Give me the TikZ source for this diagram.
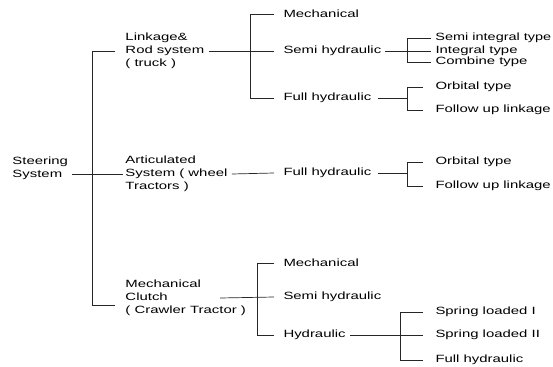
\documentclass[tikz,border=0pt]{standalone}
\usepackage{fontspec}
\setmainfont{Liberation Sans}

\begin{document}
\begin{tikzpicture}[x=1pt,y=-1pt,
    line width=0.7pt, draw=black!85,
    txt/.style={anchor=west, inner sep=0pt, align=left, xscale=1.42,
                font=\fontsize{10.5}{12.8}\selectfont},
    ]
    \useasboundingbox (0,0) rectangle (553,366);
    % vertical bars of the forks
    \coordinate (trunk) at (92,0);
    \coordinate (bara) at (250,0);
    \coordinate (barb) at (257,0);
    \coordinate (barc) at (407,0);
    \coordinate (bard) at (400,0);

    \node[txt] (steer) at (12,168) {Steering\\System};

    \node[txt] (link) at (125,51) {Linkage\&\\Rod system\\( truck )};
    \node[txt] (art) at (125,174) {Articulated\\System ( wheel\\Tractors )};
    \node[txt] (mech) at (125,298) {Mechanical\\Clutch\\( Crawler Tractor )};

    \node[txt] (mecha) at (283,14) {Mechanical};
    \node[txt] (semia) at (283,51) {Semi hydraulic};
    \node[txt] (fulla) at (283,98) {Full hydraulic};
    \node[txt] (fullb) at (283,173) {Full hydraulic};
    \node[txt] (mechb) at (283,263) {Mechanical};
    \node[txt] (semib) at (283,297) {Semi hydraulic};
    \node[txt] (hydr) at (283,335) {Hydraulic};

    \node[txt, xscale=0.97] (sit) at (435,38) {Semi integral type};
    \node[txt] (intg) at (435,51) {Integral type};
    \node[txt] (comb) at (435,62) {Combine type};
    \node[txt] (orba) at (435,87) {Orbital type};
    \node[txt] (folla) at (435,110) {Follow up linkage};
    \node[txt] (orbb) at (435,162) {Orbital type};
    \node[txt] (follb) at (435,186) {Follow up linkage};
    \node[txt] (springa) at (435,312) {Spring loaded I};
    \node[txt] (springb) at (435,335) {Spring loaded II};
    \node[txt] (fullc) at (435,360) {Full hydraulic};

    \coordinate (mechin) at ([xshift=-10pt,yshift=-7pt]mech.west);
    \coordinate (mechout) at (220,298);

    % first level
    \draw ([xshift=3pt]steer.east |- art.west) -- ([xshift=-2pt]art.west);
    \draw ([xshift=-10pt]link.west) -| (trunk |- mechin) -- (mechin);

    % second level
    \draw ([xshift=4pt]link.east) -- ([xshift=-9pt]semia.west);
    \draw ([xshift=-9pt]mecha.west) -| (bara |- fulla.west) -- ([xshift=-9pt]fulla.west);
    \draw ([xshift=4pt]art.east) -- ([xshift=-9pt]fullb.west);
    \draw (mechout) -- ([xshift=-9pt]semib.west);
    \draw ([xshift=-9pt]mechb.west) -| (barb |- hydr.west) -- ([xshift=-9pt]hydr.west);

    % third level
    \draw ([xshift=3pt]semia.east) -- ([xshift=-4pt]intg.west);
    \draw ([xshift=-4pt]sit.west) -| (barc |- comb.west) -- ([xshift=-4pt]comb.west);
    \draw ([xshift=6pt]fulla.east) -- (barc |- fulla.west);
    \draw ([xshift=-12pt]orba.west) -| (barc |- folla.west) -- ([xshift=-12pt]folla.west);
    \draw ([xshift=6pt]fullb.east) -- (barc |- fullb.west);
    \draw ([xshift=-12pt]orbb.west) -| (barc |- follb.west) -- ([xshift=-12pt]follb.west);
    \draw ([xshift=4pt]hydr.east) -- ([xshift=-12pt]springb.west);
    \draw ([xshift=-12pt]springa.west) -| (bard |- fullc.west) -- ([xshift=-12pt]fullc.west);
\end{tikzpicture}
\end{document}
